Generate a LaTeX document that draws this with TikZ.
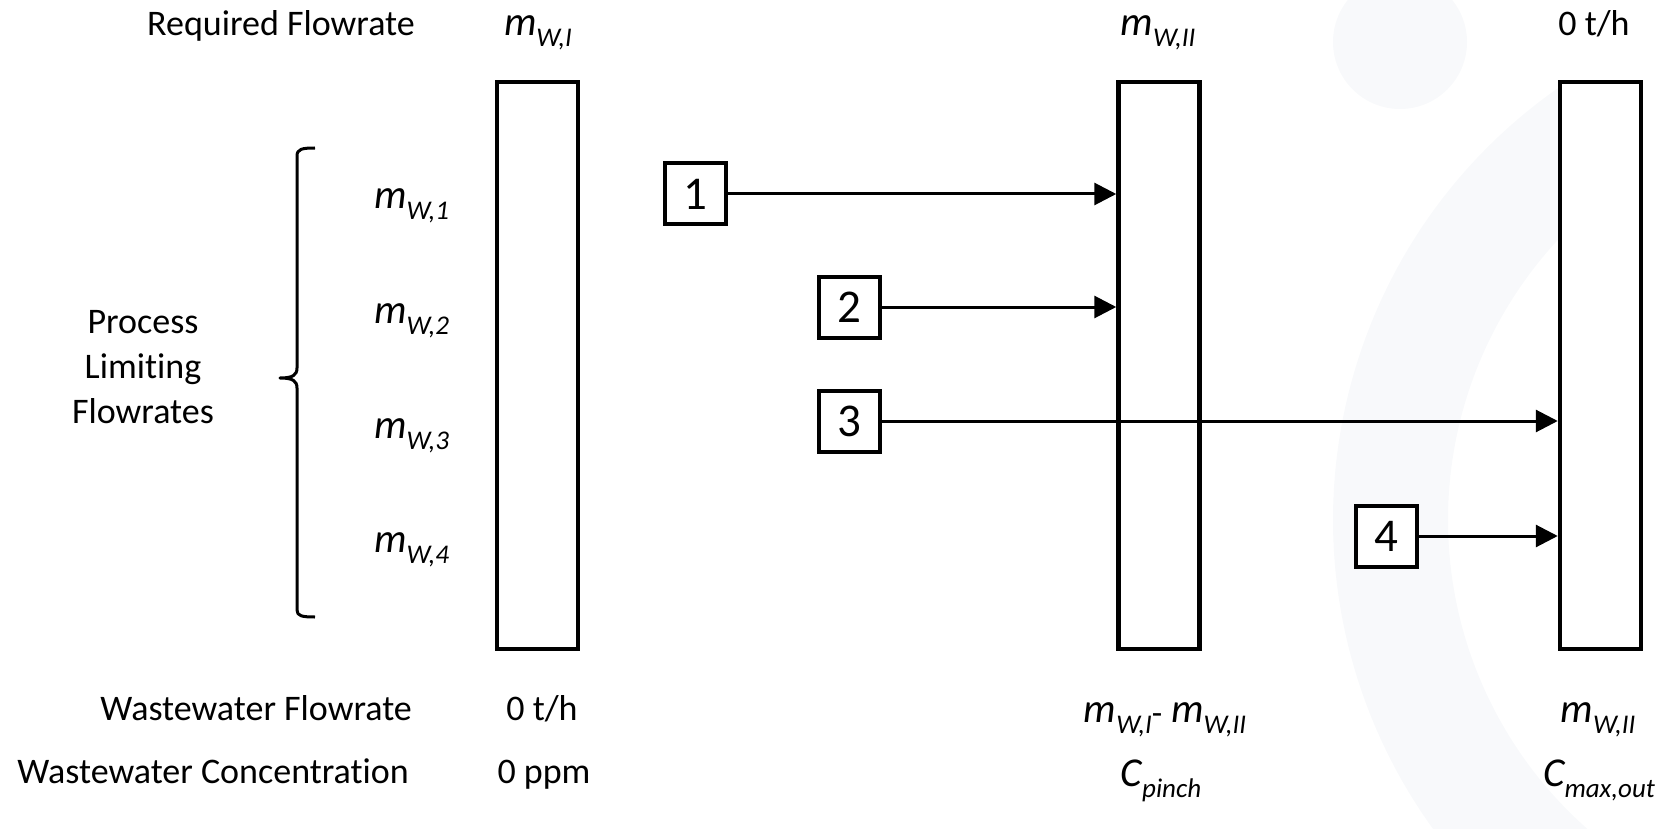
\documentclass[tikz,border=0pt]{standalone}
\usepackage{fontspec}
\setmainfont[Ligatures=NoCommon]{Carlito}
\usetikzlibrary{arrows.meta}
\definecolor{wmark}{HTML}{F8F9FB}
% italic symbol with an italic, lowered subscript
\newcommand\symsub[2]{{\fontsize{41}{41}\selectfont\itshape #1}\raisebox{-11pt}{\fontsize{27}{27}\selectfont\itshape #2}}
\tikzset{
  lbl/.style={inner sep=0pt, font=\fontsize{36}{40}\selectfont},
  sym/.style={inner sep=0pt},
  column/.style={draw, fill=white, line width=4.5pt, minimum width=81pt, minimum height=567pt, inner sep=0pt},
  numbox/.style={draw, fill=white, line width=4pt, minimum width=61pt, minimum height=61pt, inner sep=0pt, font=\fontsize{47}{47}\selectfont},
  flow/.style={line width=3pt, -{Triangle[length=22pt,width=22pt]}},
  bracket/.style={line width=3pt, line join=round}
}
\begin{document}
\begin{tikzpicture}[x=1pt,y=-1pt]
\useasboundingbox (0,0) rectangle (1665,829);
% faint background emblem
\fill[wmark] (1400,42) circle (67);
\fill[wmark] (1860,520) ++(235:527) arc (235:125:527) -- ++(125:-115) arc (125:235:412) -- cycle;

% header row
\node[lbl, anchor=base east] (reqlbl) at (415,36) {Required Flowrate};
\node[sym, anchor=base] (reqA) at (538,36) {\symsub{m}{W,I}};
\node[sym, anchor=base] (reqB) at (1158,36) {\symsub{m}{W,II}};
\node[lbl, anchor=base] (reqC) at (1594,36) {0 t/h};

% mixing columns
\node[column] (colA) at (537.5,365.5) {};
\node[column] (colB) at (1159,365.5) {};
\node[column] (colC) at (1600.5,365.5) {};

% process limiting flowrates
\node[lbl, anchor=base] (pl1) at (143,333) {Process};
\node[lbl, anchor=base] (pl2) at (143,378) {Limiting};
\node[lbl, anchor=base] (pl3) at (143,423) {Flowrates};
\draw[bracket] (315,148) .. controls (302,148) and (297,149) .. (297,156)
  -- (297,368) .. controls (297,375) and (293,378) .. (280,378)
  .. controls (293,378) and (297,381) .. (297,388)
  -- (297,610) .. controls (297,616) and (302,617) .. (315,617);
\node[sym, anchor=base west] (mw1) at (374,209) {\symsub{m}{W,1}};
\node[sym, anchor=base west] (mw2) at (374,323) {\symsub{m}{W,2}};
\node[sym, anchor=base west] (mw3) at (374,438) {\symsub{m}{W,3}};
\node[sym, anchor=base west] (mw4) at (374,552) {\symsub{m}{W,4}};

% processes and their outlet streams
\node[numbox] (p1) at (695,194) {1};
\node[numbox] (p2) at (849,307) {2};
\node[numbox] (p3) at (849,421) {3};
\node[numbox] (p4) at (1386,536) {4};
\draw[flow] (p1) -- (p1 -| colB.west);
\draw[flow] (p2) -- (p2 -| colB.west);
\draw[flow] (p3) -- (p3 -| colC.west);
\draw[flow] (p4) -- (p4 -| colC.west);

% footer rows
\node[lbl, anchor=base east] (wwf) at (412,720) {Wastewater Flowrate};
\node[lbl, anchor=base] (wwfA) at (542,720) {0 t/h};
\node[sym, anchor=base] (wwfB) at (1165,722) {\symsub{m}{W,I}\raisebox{-2pt}{\fontsize{34}{34}\selectfont -}\hspace{9pt}\symsub{m}{W,II}};
\node[sym, anchor=base] (wwfC) at (1598,722) {\symsub{m}{W,II}};
\node[lbl, anchor=base east] (wwc) at (409,783) {Wastewater Concentration};
\node[lbl, anchor=base] (wwcA) at (544,783) {0 ppm};
\node[sym, anchor=base] (wwcB) at (1161,786) {\symsub{C}{pinch}};
\node[sym, anchor=base] (wwcC) at (1599,786) {\symsub{C}{max,out}};
\end{tikzpicture}
\end{document}
